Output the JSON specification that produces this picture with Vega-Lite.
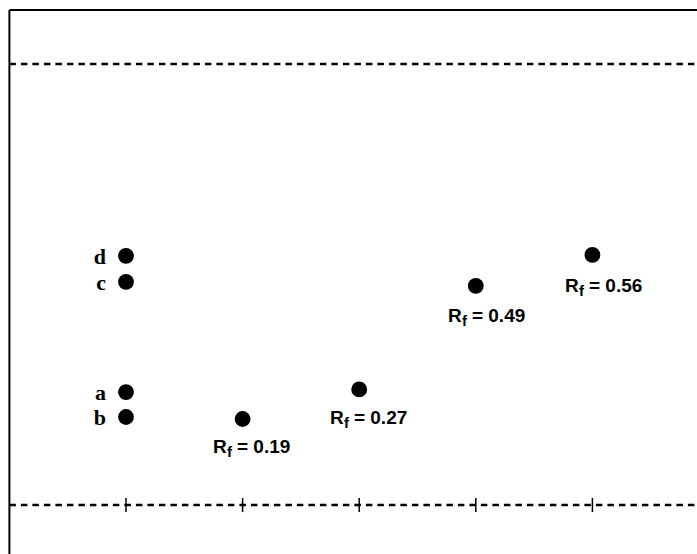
{
  "$schema": "https://vega.github.io/schema/vega-lite/v6.json",
  "width": 697,
  "height": 554,
  "autosize": {"type": "none"},
  "padding": 0,
  "background": "white",
  "config": {"view": {"stroke": null}},
  "datasets": {
    "lines": [{"y": 0, "xs": 0, "xe": 6}, {"y": 1, "xs": 0, "xe": 6}],
    "border": [
      {"xs": 0, "xe": 0, "ys": -0.2, "ye": 1.1224},
      {"xs": 0, "xe": 6, "ys": 1.1224, "ye": 1.1224}
    ],
    "ticks": [{"lane": 1}, {"lane": 2}, {"lane": 3}, {"lane": 4}, {"lane": 5}],
    "spots": [
      {"lane": 1, "y": 0.256, "label": "a"},
      {"lane": 1, "y": 0.1995, "label": "b"},
      {"lane": 1, "y": 0.506, "label": "c"},
      {"lane": 1, "y": 0.565, "label": "d"},
      {"lane": 2, "y": 0.195, "label": ""},
      {"lane": 3, "y": 0.262, "label": ""},
      {"lane": 4, "y": 0.497, "label": ""},
      {"lane": 5, "y": 0.567, "label": ""}
    ],
    "rf": [
      {"lx": 1.746, "ly": 0.1179, "t": "= 0.19"},
      {"lx": 2.749, "ly": 0.1826, "t": "= 0.27"},
      {"lx": 3.761, "ly": 0.415, "t": "= 0.49"},
      {"lx": 4.765, "ly": 0.4841, "t": "= 0.56"}
    ]
  },
  "layer": [
    {
      "data": {"name": "lines"},
      "mark": {"type": "rule", "color": "black", "strokeWidth": 2.5, "strokeDash": [6.5, 5]},
      "encoding": {
        "x": {"field": "xs", "type": "quantitative", "scale": {"domain": [-0.0806, 5.8971], "nice": false, "zero": false}, "axis": null},
        "x2": {"field": "xe"},
        "y": {"field": "y", "type": "quantitative", "scale": {"domain": [-0.1111, 1.1451], "nice": false, "zero": false}, "axis": null}
      }
    },
    {
      "data": {"name": "border"},
      "mark": {"type": "rule", "color": "black", "strokeWidth": 2},
      "encoding": {
        "x": {"field": "xs", "type": "quantitative"},
        "x2": {"field": "xe"},
        "y": {"field": "ys", "type": "quantitative"},
        "y2": {"field": "ye"}
      }
    },
    {
      "data": {"name": "ticks"},
      "mark": {"type": "rule", "color": "black", "strokeWidth": 1.5},
      "encoding": {
        "x": {"field": "lane", "type": "quantitative"},
        "y": {"datum": -0.016, "type": "quantitative"},
        "y2": {"datum": 0.016}
      }
    },
    {
      "data": {"name": "spots"},
      "mark": {"type": "circle", "color": "black", "opacity": 1, "size": 250},
      "encoding": {
        "x": {"field": "lane", "type": "quantitative"},
        "y": {"field": "y", "type": "quantitative"}
      }
    },
    {
      "data": {"name": "spots"},
      "mark": {"type": "text", "font": "Liberation Serif", "fontWeight": "bold", "fontSize": 22, "align": "right", "baseline": "alphabetic", "dx": -20, "dy": 8, "color": "black"},
      "encoding": {
        "x": {"field": "lane", "type": "quantitative"},
        "y": {"field": "y", "type": "quantitative"},
        "text": {"field": "label"}
      }
    },
    {
      "data": {"name": "rf"},
      "mark": {"type": "text", "font": "Liberation Sans", "fontWeight": "bold", "fontSize": 19, "align": "left", "baseline": "alphabetic", "color": "black"},
      "encoding": {
        "x": {"field": "lx", "type": "quantitative"},
        "y": {"field": "ly", "type": "quantitative"},
        "text": {"value": "R"}
      }
    },
    {
      "data": {"name": "rf"},
      "mark": {"type": "text", "font": "Liberation Sans", "fontWeight": "bold", "fontSize": 15, "align": "left", "baseline": "alphabetic", "dx": 14, "dy": 4, "color": "black"},
      "encoding": {
        "x": {"field": "lx", "type": "quantitative"},
        "y": {"field": "ly", "type": "quantitative"},
        "text": {"value": "f"}
      }
    },
    {
      "data": {"name": "rf"},
      "mark": {"type": "text", "font": "Liberation Sans", "fontWeight": "bold", "fontSize": 19, "align": "left", "baseline": "alphabetic", "dx": 24, "color": "black"},
      "encoding": {
        "x": {"field": "lx", "type": "quantitative"},
        "y": {"field": "ly", "type": "quantitative"},
        "text": {"field": "t"}
      }
    }
  ]
}
